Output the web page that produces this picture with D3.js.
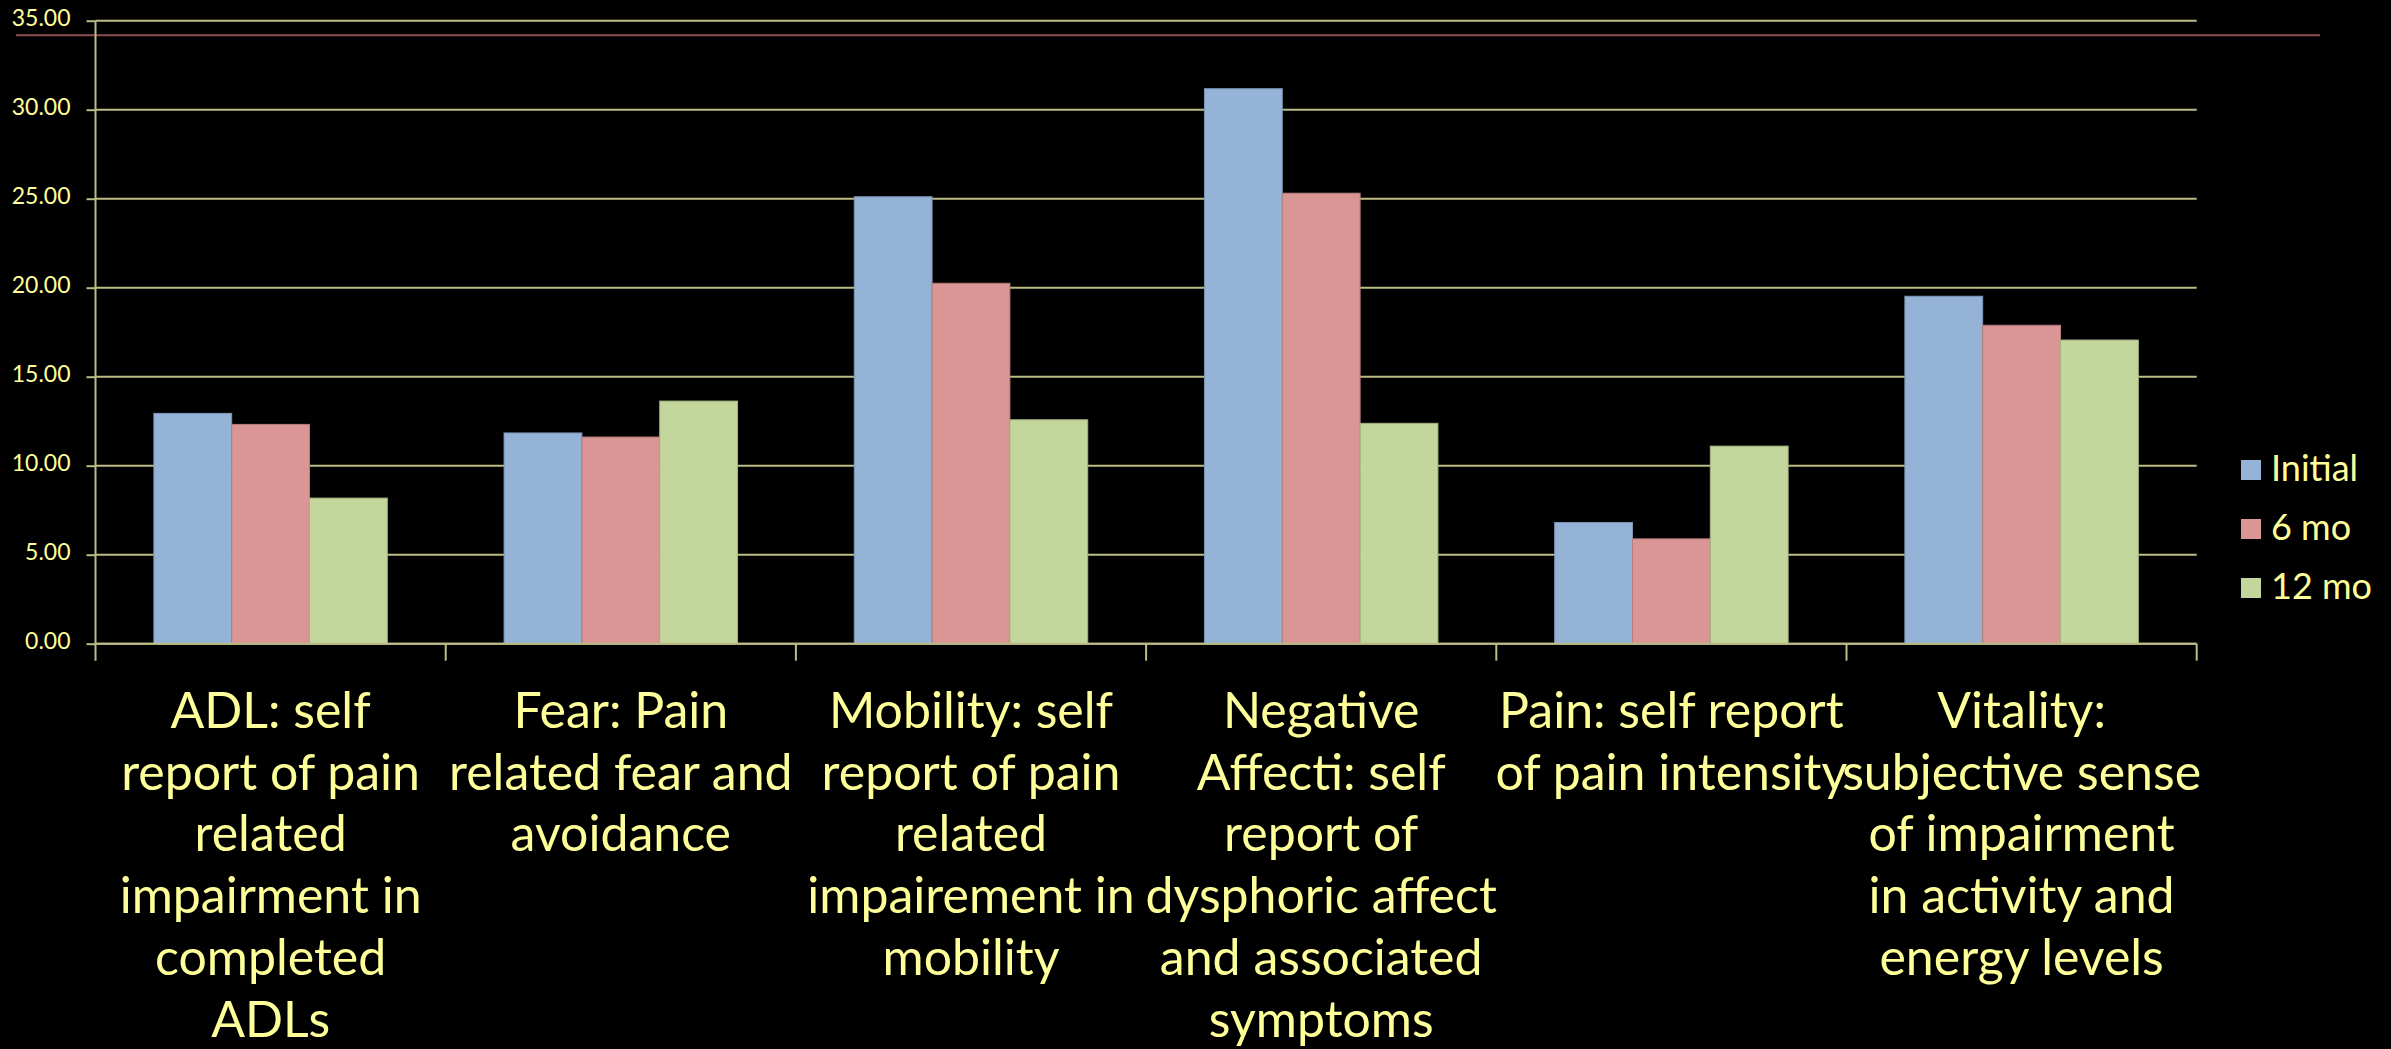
<!DOCTYPE html>
<html>
<head>
<meta charset="utf-8">
<script src="https://cdnjs.cloudflare.com/ajax/libs/d3/7.8.5/d3.min.js"></script>
<style>
  body { margin: 0; background: #000; }
  text { font-family: Lato, "Open Sans", sans-serif; fill: #ffff99; }
</style>
</head>
<body>
<script>
// data
var categories = ["ADL", "Fear", "Mobility", "Negative Affect", "Pain", "Vitality"];
var labelLines = [
  ["ADL: self", "report of pain", "related", "impairment in", "completed", "ADLs"],
  ["Fear: Pain", "related fear and", "avoidance"],
  ["Mobility: self", "report of pain", "related", "impairement in", "mobility"],
  ["Negative", "Affecti: self", "report of", "dysphoric affect", "and associated", "symptoms"],
  ["Pain: self report", "of pain intensity"],
  ["Vitality:", "subjective sense", "of impairment", "in activity and", "energy levels"]
];
var series = ["Initial", "6 mo", "12 mo"];
var initial  = [12.94, 11.84, 25.11, 31.18, 6.81, 19.52];
var sixMo    = [12.32, 11.61, 20.25, 25.31, 5.89, 17.89];
var twelveMo = [8.18, 13.63, 12.58, 12.38, 11.10, 17.06];
var yTicks = [0, 5, 10, 15, 20, 25, 30, 35];

var colors = ["#95b3d7", "#d99694", "#c3d69b"];
var gridColor = "#bcbc86";

var W = 2391, H = 1049;
var plotLeft = 95.5, plotRight = 2196.7, plotTop = 20.7, plotBottom = 643.7;

var svg = d3.select("body").append("svg")
    .attr("width", W)
    .attr("height", H);

var x0 = d3.scaleBand().domain(categories).range([plotLeft, plotRight]);
var bw = x0.bandwidth();
var x1 = d3.scaleBand().domain(series).range([bw / 6, bw * 5 / 6]);
var y = d3.scaleLinear().domain([0, 35]).range([plotBottom, plotTop]);

// title underline of the slide
svg.append("line")
  .attr("x1", 16).attr("x2", 2320)
  .attr("y1", 35.3).attr("y2", 35.3)
  .attr("stroke", "#8d4f4f").attr("stroke-width", 2);

// gridlines
svg.append("g").selectAll("line").data(yTicks).enter()
  .append("line")
    .attr("x1", plotLeft).attr("x2", plotRight)
    .attr("y1", function(d) { return y(d); })
    .attr("y2", function(d) { return y(d); })
    .attr("stroke", gridColor).attr("stroke-width", 2);

// y axis
var yAxis = svg.append("g")
    .attr("transform", "translate(" + plotLeft + ",0)")
    .call(d3.axisLeft(y).tickValues(yTicks).tickFormat(d3.format(".2f")).tickSize(9).tickPadding(16));
yAxis.select(".domain").remove();
yAxis.selectAll(".tick line").attr("stroke", gridColor).attr("stroke-width", 2);
yAxis.selectAll(".tick text")
  .attr("fill", "#ffff99")
  .attr("dy", "0.2em")
  .style("font-size", "23px")
  .style("font-family", "Lato, sans-serif");

svg.append("line")
  .attr("x1", plotLeft).attr("x2", plotLeft)
  .attr("y1", plotTop).attr("y2", plotBottom + 17)
  .attr("stroke", gridColor).attr("stroke-width", 2);

// bars
var rows = categories.map(function(c, i) {
  return { cat: c, vals: [initial[i], sixMo[i], twelveMo[i]] };
});

var groups = svg.append("g").selectAll("g").data(rows).enter()
  .append("g")
    .attr("transform", function(d) { return "translate(" + x0(d.cat) + ",0)"; });

groups.selectAll("rect")
  .data(function(d) { return d.vals.map(function(v, j) { return { s: series[j], v: v, j: j }; }); })
  .enter().append("rect")
    .attr("x", function(d) { return x1(d.s); })
    .attr("width", x1.bandwidth())
    .attr("y", function(d) { return y(d.v); })
    .attr("height", function(d) { return y(0) - y(d.v); })
    .attr("fill", function(d) { return colors[d.j]; })
    .attr("stroke", function(d) { return d3.color(colors[d.j]).darker(0.5); })
    .attr("stroke-width", 1);

// x axis line + category boundary ticks
svg.append("line")
  .attr("x1", plotLeft).attr("x2", plotRight)
  .attr("y1", plotBottom).attr("y2", plotBottom)
  .attr("stroke", gridColor).attr("stroke-width", 2);

var bounds = categories.slice(1).map(function(c) { return x0(c); }).concat([plotRight]);
svg.append("g").selectAll("line").data(bounds).enter()
  .append("line")
    .attr("x1", function(d) { return d; }).attr("x2", function(d) { return d; })
    .attr("y1", plotBottom).attr("y2", plotBottom + 17)
    .attr("stroke", gridColor).attr("stroke-width", 2);

// category labels
var labels = svg.append("g").selectAll("text").data(categories).enter()
  .append("text")
    .attr("text-anchor", "middle")
    .style("font-size", "50px");

labels.each(function(c, i) {
  var t = d3.select(this);
  labelLines[i].forEach(function(line, k) {
    t.append("tspan")
      .attr("x", x0(c) + bw / 2)
      .attr("y", 728 + k * 61.7)
      .text(line);
  });
});

// legend
var legend = svg.append("g").selectAll("g").data(series).enter()
  .append("g")
    .attr("transform", function(d, i) { return "translate(2241," + (460 + i * 59) + ")"; });

legend.append("rect")
  .attr("width", 20).attr("height", 20)
  .attr("fill", function(d, i) { return colors[i]; });

legend.append("text")
  .attr("x", 30).attr("y", 21)
  .style("font-size", "36px")
  .text(function(d) { return d; });
</script>
</body>
</html>
